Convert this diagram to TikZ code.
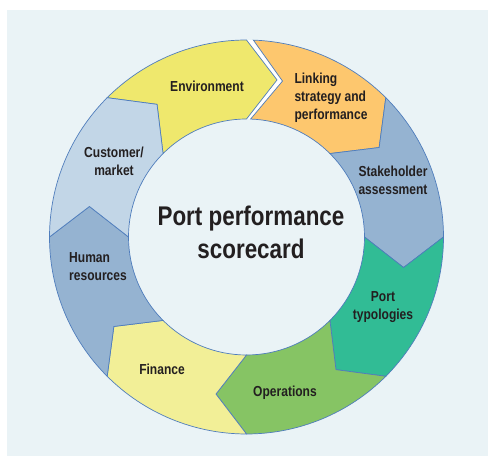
\documentclass[tikz,border=0pt]{standalone}
\usepackage{fontspec}
\setmainfont{Liberation Sans}[FakeStretch=0.83]
\usepackage{tikz}

\definecolor{bgcol}{RGB}{234,243,246}
\definecolor{edgecol}{RGB}{79,125,188}
\definecolor{inkcol}{RGB}{35,31,32}
\definecolor{envcol}{RGB}{239,232,109}
\definecolor{linkcol}{RGB}{253,199,110}
\definecolor{stakecol}{RGB}{149,179,209}
\definecolor{typocol}{RGB}{49,188,149}
\definecolor{opercol}{RGB}{134,196,100}
\definecolor{fincol}{RGB}{242,239,151}
\definecolor{humcol}{RGB}{149,179,209}
\definecolor{custcol}{RGB}{194,214,231}

\tikzset{
  seg/.style={draw=edgecol, line width=0.7pt, line join=miter},
  lbl/.style={text=inkcol, font=\fontsize{14.5}{18}\selectfont\bfseries, inner sep=0pt},
}

\begin{document}
\begin{tikzpicture}[x=1pt, y=1pt]
    \useasboundingbox (0,0) rectangle (488,457);
    \fill[bgcol] (7,1) rectangle (488,447);
    \begin{scope}[shift={(246.5,220)}]
	% white ring shows through the gap at the top
	\fill[white, even odd rule] (0,0) circle[radius=197] (0,0) circle[radius=118];
	\foreach \s/\e/\c in {135/90/envcol, 88/45/linkcol, 45/0/stakecol,
	    0/-45/typocol, -45/-90/opercol, -90/-135/fincol, -135/-180/humcol,
	    180/135/custcol}
	    \draw[seg, fill=\c] (\s:197) arc[start angle=\s, end angle=\e, radius=197]
		-- (\e-11:160) -- (\e:118) arc[start angle=\e, end angle=\s, radius=118]
		-- (\s-11:160) -- cycle;
    \end{scope}
    \node[lbl] (env) at (207,371) {Environment};
    \node[lbl, align=left] (link) at (331,359) {Linking\\strategy and\\performance};
    \node[lbl, align=center] (stake) at (393,277) {Stakeholder\\assessment};
    \node[lbl, align=center] (typo) at (383,150) {Port\\typologies};
    \node[lbl] (oper) at (285,64) {Operations};
    \node[lbl] (fin) at (162,88) {Finance};
    \node[lbl, align=left] (hum) at (98,190) {Human\\resources};
    \node[lbl, align=center] (cust) at (114,296) {Customer/\\market};
    \node[text=inkcol, font=\fontsize{27}{33}\selectfont\bfseries, align=center]
	(title) at (251,225) {Port performance\\scorecard};
\end{tikzpicture}
\end{document}
